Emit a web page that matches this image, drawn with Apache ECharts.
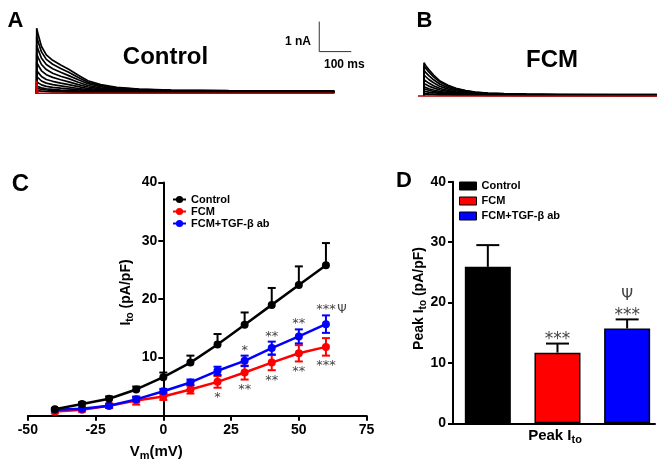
<!DOCTYPE html>
<html><head><meta charset="utf-8">
<script src="https://cdn.jsdelivr.net/npm/echarts@6/dist/echarts.min.js"></script>
<style>html,body{margin:0;padding:0;background:#fff}#c{width:662px;height:465px}</style>
</head><body><div id="c"></div>
<script>
const FONT = '"Liberation Sans", Arial, sans-serif';

// ---------- Panel A : Control current traces (ms, nA) ----------
const traceTimesA = [0, 5, 15, 30, 50, 75, 100, 130, 160, 200, 250, 320, 420, 600, 930];
const controlTraces = [
  [2.17, 1.94, 1.56, 1.28, 1.10, 0.94, 0.80, 0.60, 0.42, 0.29, 0.20, 0.14, 0.11, 0.09, 0.08],
  [1.89, 1.70, 1.38, 1.13, 0.97, 0.83, 0.70, 0.53, 0.37, 0.26, 0.18, 0.13, 0.10, 0.08, 0.07],
  [1.60, 1.44, 1.17, 0.96, 0.82, 0.70, 0.59, 0.45, 0.32, 0.22, 0.15, 0.11, 0.09, 0.07, 0.07],
  [1.31, 1.18, 0.96, 0.79, 0.67, 0.57, 0.49, 0.37, 0.26, 0.18, 0.13, 0.10, 0.08, 0.07, 0.06],
  [1.03, 0.93, 0.75, 0.62, 0.53, 0.45, 0.38, 0.29, 0.21, 0.15, 0.11, 0.08, 0.07, 0.06, 0.06],
  [0.77, 0.69, 0.56, 0.46, 0.40, 0.34, 0.29, 0.22, 0.16, 0.12, 0.09, 0.07, 0.06, 0.05, 0.05],
  [0.56, 0.50, 0.41, 0.34, 0.29, 0.25, 0.21, 0.16, 0.12, 0.09, 0.07, 0.06, 0.05, 0.05, 0.04],
  [0.38, 0.34, 0.28, 0.23, 0.20, 0.17, 0.15, 0.12, 0.09, 0.07, 0.06, 0.05, 0.04, 0.04, 0.04],
  [0.24, 0.22, 0.18, 0.15, 0.13, 0.11, 0.10, 0.08, 0.07, 0.06, 0.05, 0.04, 0.04, 0.03, 0.03],
  [0.17, 0.15, 0.13, 0.11, 0.09, 0.08, 0.07, 0.06, 0.05, 0.05, 0.04, 0.03, 0.03, 0.03, 0.03],
  [0.09, 0.08, 0.07, 0.06, 0.05, 0.05, 0.04, 0.04, 0.04, 0.03, 0.03, 0.03, 0.02, 0.02, 0.02]
];
const redTimesA = [-10, 0, 0, 4, 930];
const redTraceA = [0, 0, 0.42, 0, 0];
const scaleBarTimes = [883, 883, 983];
const scaleBarCurrents = [2.39, 1.39, 1.39];

// ---------- Panel B : FCM current traces (ms, nA) ----------
const traceTimesB = [0, 5, 15, 30, 50, 75, 100, 130, 160, 200, 250, 320, 420, 600, 728];
const fcmTraces = [
  [1.11, 1.02, 0.88, 0.70, 0.50, 0.36, 0.26, 0.18, 0.13, 0.10, 0.08, 0.06, 0.05, 0.05, 0.05],
  [1.01, 0.93, 0.80, 0.64, 0.46, 0.33, 0.24, 0.17, 0.12, 0.09, 0.07, 0.06, 0.05, 0.05, 0.05],
  [0.86, 0.79, 0.68, 0.54, 0.39, 0.28, 0.21, 0.15, 0.11, 0.08, 0.07, 0.05, 0.05, 0.04, 0.04],
  [0.70, 0.64, 0.55, 0.44, 0.32, 0.23, 0.17, 0.13, 0.10, 0.07, 0.06, 0.05, 0.04, 0.04, 0.04],
  [0.54, 0.50, 0.43, 0.34, 0.25, 0.18, 0.14, 0.10, 0.08, 0.06, 0.05, 0.04, 0.04, 0.04, 0.04],
  [0.42, 0.39, 0.33, 0.27, 0.20, 0.15, 0.11, 0.09, 0.07, 0.06, 0.05, 0.04, 0.04, 0.03, 0.03],
  [0.31, 0.28, 0.24, 0.20, 0.15, 0.11, 0.09, 0.07, 0.06, 0.05, 0.04, 0.04, 0.03, 0.03, 0.03],
  [0.24, 0.22, 0.19, 0.15, 0.12, 0.09, 0.07, 0.06, 0.05, 0.04, 0.04, 0.03, 0.03, 0.03, 0.03],
  [0.16, 0.15, 0.13, 0.11, 0.09, 0.07, 0.06, 0.05, 0.04, 0.04, 0.03, 0.03, 0.03, 0.02, 0.02],
  [0.09, 0.08, 0.07, 0.06, 0.05, 0.05, 0.04, 0.04, 0.03, 0.03, 0.03, 0.02, 0.02, 0.02, 0.02],
  [0.07, 0.06, 0.05, 0.05, 0.04, 0.04, 0.03, 0.03, 0.03, 0.02, 0.02, 0.02, 0.02, 0.02, 0.02]
];
const redTimesB = [-19, 728];
const redTraceB = [0, 0];

// ---------- Panel C : I-V relationship ----------
const voltages   = [-40, -30, -20, -10, 0, 10, 20, 30, 40, 50, 60];
const controlIto = [1.1, 2.0, 2.9, 4.5, 6.6, 9.1, 12.2, 15.6, 19.0, 22.4, 25.8];
const controlSem = [0.2, 0.3, 0.4, 0.5, 0.8, 1.2, 1.8, 2.1, 2.9, 3.2, 3.8];
const fcmIto     = [0.7, 1.0, 1.7, 2.6, 3.3, 4.5, 5.8, 7.4, 9.1, 10.7, 11.8];
const fcmSem     = [0.3, 0.3, 0.4, 0.7, 0.6, 0.7, 1.0, 1.2, 1.3, 1.4, 1.5];
const tgfIto     = [1.0, 1.2, 1.7, 2.8, 4.2, 5.7, 7.7, 9.4, 11.6, 13.6, 15.7];
const tgfSem     = [0.2, 0.2, 0.3, 0.4, 0.4, 0.5, 0.7, 0.9, 1.1, 1.2, 1.5];
const tgfMarks   = ['', '', '', '', '', '', '', '*', '**', '**', '***'];
const tgfPsi     = ['', '', '', '', '', '', '', '', '', '', 'Ψ'];
const fcmMarks   = ['', '', '', '', '', '', '*', '**', '**', '**', '***'];

// ---------- Panel D : Peak Ito ----------
const groups   = ['Control', 'FCM', 'FCM+TGF-β ab'];
const peakIto  = [25.9, 11.7, 15.7];
const peakSem  = [3.6, 1.5, 1.5];
const peakMarks = ['', '***', '***'];
const peakPsi   = ['', '', 'Ψ'];

const colors = ['#000000', '#ff0000', '#0000ff'];

// ---------- helpers ----------
const axisLineStyle = {color: '#000', width: 2};
const labelStyle = {color: '#000', fontSize: 14, fontWeight: 'bold', fontFamily: FONT};

function traceSeries(traces, times, gi) {
  return traces.map(vals => ({
    type: 'line', xAxisIndex: gi, yAxisIndex: gi, symbol: 'none', silent: true, z: 2,
    lineStyle: {color: '#000', width: 1.7},
    data: [[times[0], 0]].concat(times.map((t, i) => [t, vals[i]]))
  }));
}
function simpleLine(times, vals, gi, color, width, z) {
  return {type: 'line', xAxisIndex: gi, yAxisIndex: gi, symbol: 'none', silent: true, z: z,
    lineStyle: {color: color, width: width}, data: times.map((t, i) => [t, vals[i]])};
}
function errorSeries(gi, xs, ys, es, color, capHalf, both) {
  return {
    type: 'custom', xAxisIndex: gi, yAxisIndex: gi, silent: true, z: 3,
    itemStyle: {color: color}, encode: {x: 0, y: 1},
    data: xs.map((x, i) => [x, ys[i], es[i]]),
    renderItem(params, api) {
      const x = api.value(0), y = api.value(1), e = api.value(2);
      const top = api.coord([x, y + e]);
      const bot = api.coord([x, both ? y - e : y]);
      const st = {stroke: color, lineWidth: 2};
      const ch = [
        {type: 'line', shape: {x1: top[0], y1: top[1], x2: bot[0], y2: bot[1]}, style: st},
        {type: 'line', shape: {x1: top[0] - capHalf, y1: top[1], x2: top[0] + capHalf, y2: top[1]}, style: st}
      ];
      if (both) ch.push({type: 'line', shape: {x1: bot[0] - capHalf, y1: bot[1], x2: bot[0] + capHalf, y2: bot[1]}, style: st});
      return {type: 'group', children: ch};
    }
  };
}
// text annotations anchored on data values; dx/dy are pixel nudges
function annotSeries(gi, xs, anchors, texts, size, dx, dy) {
  const items = [];
  xs.forEach((x, i) => { if (texts[i]) items.push({x: x, y: anchors[i], t: texts[i]}); });
  return {
    type: 'custom', xAxisIndex: gi, yAxisIndex: gi, silent: true, z: 10,
    data: items.map(it => [it.x, it.y]), encode: {x: 0, y: 1},
    renderItem(params, api) {
      const it = items[params.dataIndex];
      const p = api.coord([api.value(0), api.value(1)]);
      return {type: 'text', x: p[0] + dx, y: p[1] + dy,
        style: {text: it.t, fill: '#444', fontSize: size, fontFamily: '"DejaVu Sans", sans-serif',
          align: 'center', verticalAlign: 'middle'}};
    }
  };
}
function subText(x, y, main, sub, tail, size, subSize, rotate) {
  return {type: 'text', x: x, y: y, rotation: rotate ? Math.PI / 2 : 0, silent: true,
    style: {
      text: '{m|' + main + '}{s|' + sub + '}' + (tail ? '{m|' + tail + '}' : ''),
      rich: {
        m: {fontSize: size, fontWeight: 'bold', fontFamily: FONT, fill: '#000'},
        s: {fontSize: subSize, fontWeight: 'bold', fontFamily: FONT, fill: '#000', padding: [8, 0, 0, 0]}
      },
      align: 'center', verticalAlign: 'middle'
    }};
}
function plainText(x, y, text, size, align, bold) {
  return {type: 'text', x: x, y: y, silent: true,
    style: {text: text, fontSize: size, fontWeight: bold ? 'bold' : 'normal', fontFamily: FONT,
      fill: '#000', align: align || 'center', verticalAlign: 'middle'}};
}

const series = [];
// Panel C lines first (legend takes their icons)
[[controlIto, 0], [fcmIto, 1], [tgfIto, 2]].forEach(([vals, k]) => {
  series.push({
    name: groups[k], type: 'line', xAxisIndex: 2, yAxisIndex: 2, z: 4 + (k === 0 ? 2 : (k === 2 ? 1 : 0)),
    symbol: 'circle', symbolSize: 8, color: colors[k],
    lineStyle: {width: 2.5, color: colors[k]}, itemStyle: {color: colors[k]},
    data: voltages.map((v, i) => [v, vals[i]])
  });
});
series.push(errorSeries(2, voltages, controlIto, controlSem, colors[0], 4, false));
series.push(errorSeries(2, voltages, fcmIto, fcmSem, colors[1], 4, true));
series.push(errorSeries(2, voltages, tgfIto, tgfSem, colors[2], 4, true));
series.push(annotSeries(2, voltages, tgfIto.map((v, i) => v + tgfSem[i]), tgfMarks, 13, 0, -5.5));
series.push(annotSeries(2, voltages, tgfIto.map((v, i) => v + tgfSem[i]), tgfPsi, 12, 16, -5.2));
series.push(annotSeries(2, voltages, fcmIto.map((v, i) => v - fcmSem[i]), fcmMarks, 13, 0, 10));

// Panel D bars
groups.forEach((g, k) => {
  series.push({
    name: g, type: 'bar', xAxisIndex: 3, yAxisIndex: 3, barWidth: 46, barGap: '-100%', z: 2,
    itemStyle: {color: colors[k], borderColor: '#000', borderWidth: 1.5},
    data: [[k + 1, peakIto[k]]]
  });
});
series.push(errorSeries(3, groups.map((g, k) => k + 1), peakIto, peakSem, '#000', 11.5, false));
series.push(annotSeries(3, groups.map((g, k) => k + 1), peakIto.map((v, k) => v + peakSem[k]), peakMarks, 17, 0, -3.5));
series.push(annotSeries(3, groups.map((g, k) => k + 1), peakIto.map((v, k) => v + peakSem[k]), peakPsi, 15, 0, -23));

// Panels A and B
traceSeries(controlTraces, traceTimesA, 0).forEach(s => series.push(s));
series.push(simpleLine(redTimesA, redTraceA, 0, '#d00000', 1.6, 3));
series.push(simpleLine(scaleBarTimes, scaleBarCurrents, 0, '#333', 1, 3));
traceSeries(fcmTraces, traceTimesB, 1).forEach(s => series.push(s));
series.push(simpleLine(redTimesB, redTraceB, 1, '#b00000', 1.6, 3));

const hiddenAxis = (gi, min, max) => ({gridIndex: gi, type: 'value', min: min, max: max, show: false});

// C: y axis sits at Vm = 0 (GraphPad style): offset inwards by the width of -50..0
const cGrid = {left: 27.8, top: 182.4, width: 338.8, height: 233.3};
const cYOffset = -cGrid.width * (0 - (-50)) / (75 - (-50));

const option = {
  animation: false,
  backgroundColor: '#fff',
  textStyle: {fontFamily: FONT},
  grid: [
    {left: 36.7, top: 21.3, width: 320, height: 78, outerBoundsMode: 'none'},
    {left: 414.4, top: 24, width: 249.6, height: 78, outerBoundsMode: 'none'},
    Object.assign({outerBoundsMode: 'none'}, cGrid),
    {left: 453, top: 181.7, width: 202, height: 241.6, outerBoundsMode: 'none'}
  ],
  xAxis: [
    hiddenAxis(0, 0, 1000),
    hiddenAxis(1, -30, 750),
    {gridIndex: 2, type: 'value', min: -50, max: 75, interval: 25,
      axisLine: {show: true, onZero: false, lineStyle: axisLineStyle},
      axisTick: {show: true, length: 5, lineStyle: axisLineStyle},
      axisLabel: Object.assign({margin: 7}, labelStyle), splitLine: {show: false}},
    {gridIndex: 3, type: 'value', min: 0.5, max: 3.4,
      axisLine: {show: true, onZero: false, lineStyle: axisLineStyle},
      axisTick: {show: false}, axisLabel: {show: false}, splitLine: {show: false}}
  ],
  yAxis: [
    hiddenAxis(0, -0.2, 2.4),
    hiddenAxis(1, -0.2, 2.4),
    {gridIndex: 2, type: 'value', min: 0, max: 40, interval: 10, position: 'left', offset: cYOffset,
      axisLine: {show: true, onZero: false, lineStyle: axisLineStyle},
      axisTick: {show: true, length: 5, lineStyle: axisLineStyle},
      axisLabel: Object.assign({margin: 6, formatter: v => (v === 0 ? '' : String(v))}, labelStyle),
      splitLine: {show: false}},
    {gridIndex: 3, type: 'value', min: 0, max: 40, interval: 10,
      axisLine: {show: true, onZero: false, lineStyle: axisLineStyle},
      axisTick: {show: true, length: 5, lineStyle: axisLineStyle},
      axisLabel: Object.assign({margin: 7}, labelStyle), splitLine: {show: false}}
  ],
  legend: [
    {data: groups.slice(), left: 172, top: 193.5, orient: 'vertical', padding: 0, itemGap: 0,
      itemWidth: 13, itemHeight: 9, selectedMode: false,
      textStyle: {fontSize: 11, fontWeight: 'bold', fontFamily: FONT, color: '#000', lineHeight: 12}},
    {data: groups.map(n => ({name: n, icon: 'rect', itemStyle: {borderColor: '#000', borderWidth: 1}})),
      left: 459, top: 180, orient: 'vertical', padding: 0, itemGap: 3,
      itemWidth: 17, itemHeight: 8, selectedMode: false,
      textStyle: {fontSize: 11, fontWeight: 'bold', fontFamily: FONT, color: '#000', lineHeight: 12}}
  ],
  graphic: [
    plainText(15.5, 20.5, 'A', 22, 'center', true),
    plainText(424.5, 21, 'B', 22, 'center', true),
    plainText(20.5, 184, 'C', 24, 'center', true),
    plainText(404, 180.5, 'D', 22, 'center', true),
    plainText(165.5, 57, 'Control', 24, 'center', true),
    plainText(552, 60, 'FCM', 24, 'center', true),
    plainText(311, 42, '1 nA', 12, 'right', true),
    plainText(324, 65, '100 ms', 12, 'left', true),
    subText(126, 292.5, 'I', 'to', ' (pA/pF)', 14, 10, true),
    subText(156.3, 451.5, 'V', 'm', '(mV)', 15, 11, false),
    subText(419, 298.5, 'Peak I', 'to', ' (pA/pF)', 14, 10, true),
    subText(555, 436, 'Peak I', 'to', '', 15, 11, false)
  ],
  series: series
};
const chart = echarts.init(document.getElementById('c'));
chart.setOption(option);
</script></body></html>
